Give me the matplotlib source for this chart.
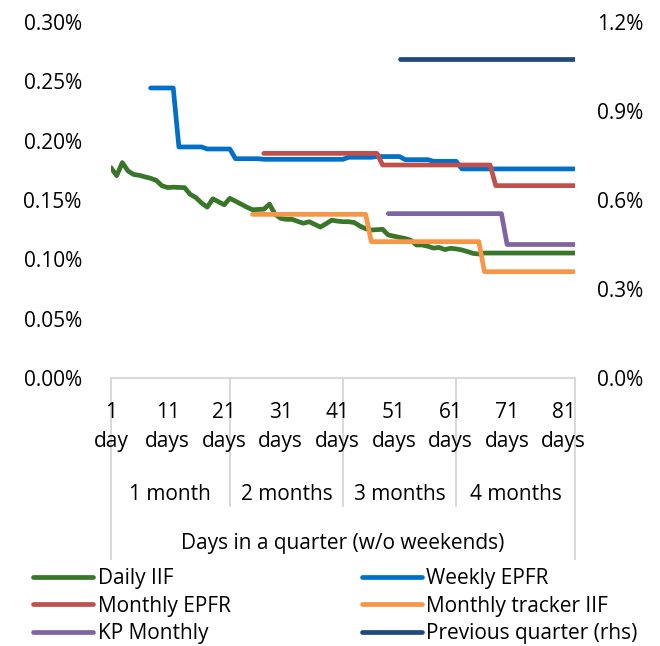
import numpy as np
import matplotlib
matplotlib.use("Agg")
import matplotlib.pyplot as plt
from matplotlib.transforms import blended_transform_factory
from matplotlib.ticker import FuncFormatter

plt.rcParams['font.family'] = ['Open Sans', 'DejaVu Sans']

# ---------------- data ----------------
days = np.arange(1, 84)

daily_iif = [
    0.1772, 0.1705, 0.1815, 0.1745, 0.1715, 0.1708, 0.1695, 0.1683, 0.1665, 0.1620,
    0.1605, 0.1608, 0.1606, 0.1604, 0.1548, 0.1520, 0.1475, 0.1440, 0.1510, 0.1485,
    0.1460, 0.1514, 0.1490, 0.1465, 0.1440, 0.1418, 0.1420, 0.1422, 0.1465, 0.1380,
    0.1345, 0.1337, 0.1337, 0.1320, 0.1304, 0.1317, 0.1295, 0.1272, 0.1300, 0.1330,
    0.1322, 0.1317, 0.1317, 0.1310, 0.1280, 0.1258, 0.1247, 0.1250, 0.1253, 0.1205,
    0.1195, 0.1185, 0.1175, 0.1160, 0.1121, 0.1121, 0.1110, 0.1095, 0.1100, 0.1082,
    0.1093, 0.1088, 0.1079, 0.1065, 0.1050, 0.1045, 0.1053, 0.1053, 0.1053, 0.1053,
    0.1053, 0.1053, 0.1053, 0.1053, 0.1053, 0.1053, 0.1053, 0.1053, 0.1053, 0.1053,
    0.1053, 0.1053, 0.1053,
]

weekly_epfr_start = [8, 13, 18, 23, 28, 33, 38, 43, 48, 53, 58, 63, 68, 73, 78]
weekly_epfr_vals = [0.2444, 0.1947, 0.1930, 0.1848, 0.1843, 0.1843, 0.1843, 0.1860,
                    0.1866, 0.1840, 0.1826, 0.1762, 0.1762, 0.1762, 0.1762]

monthly_epfr_start = [28, 49, 69]
monthly_epfr_vals = [0.1893, 0.1795, 0.1621]

tracker_iif_start = [26, 47, 67]
tracker_iif_vals = [0.1379, 0.1149, 0.0896]

kp_monthly_start = [50, 71]
kp_monthly_vals = [0.1385, 0.1125]

prev_quarter_start = [52]
prev_quarter_vals = [1.075]

x_tick_days = [1, 11, 21, 31, 41, 51, 61, 71, 81]
month_labels = ["1 month", "2 months", "3 months", "4 months"]
month_bounds = [1, 22, 42, 62, 83]

left_ticks = [0.00, 0.05, 0.10, 0.15, 0.20, 0.25, 0.30]
right_ticks = [0.0, 0.3, 0.6, 0.9, 1.2]


def held_series(starts, vals, last_day=83):
    """Values held constant from each start day until the next (step data)."""
    out = np.full(len(days), np.nan)
    for i, (s, v) in enumerate(zip(starts, vals)):
        e = starts[i + 1] if i + 1 < len(starts) else last_day + 1
        out[(days >= s) & (days < e)] = v
    return out


weekly_epfr = held_series(weekly_epfr_start, weekly_epfr_vals)
monthly_epfr = held_series(monthly_epfr_start, monthly_epfr_vals)
tracker_iif = held_series(tracker_iif_start, tracker_iif_vals)
kp_monthly = held_series(kp_monthly_start, kp_monthly_vals)
prev_quarter = held_series(prev_quarter_start, prev_quarter_vals)

# ---------------- figure ----------------
W, H = 660, 646
fig = plt.figure(figsize=(W / 100, H / 100), dpi=100)
ax = fig.add_axes([111 / W, 1 - 378 / H, (575 - 111) / W, (378 - 22) / H])
ax2 = ax.twinx()

FS = 15
lw = 3.4
c_green = "#38762A"
c_blue = "#0070C8"
c_red = "#C0504D"
c_orange = "#F79646"
c_purple = "#8064A2"
c_navy = "#1F497D"

kw = dict(lw=lw, solid_capstyle="round", solid_joinstyle="round")
l1, = ax.plot(days, daily_iif, color=c_green, label="Daily IIF", **kw)
l2, = ax.plot(days, weekly_epfr, color=c_blue, label="Weekly EPFR", **kw)
l3, = ax.plot(days, monthly_epfr, color=c_red, label="Monthly EPFR", **kw)
l4, = ax.plot(days, tracker_iif, color=c_orange, label="Monthly tracker IIF", **kw)
l5, = ax.plot(days, kp_monthly, color=c_purple, label="KP Monthly", **kw)
l6, = ax2.plot(days, prev_quarter, color=c_navy, label="Previous quarter (rhs)", **kw)

ax.set_xlim(1, 83)
ax.set_ylim(0, 0.30)
ax2.set_ylim(0, 1.2)

ax.set_yticks(left_ticks)
ax.yaxis.set_major_formatter(FuncFormatter(lambda v, p: f"{v:.2f}%"))
ax2.set_yticks(right_ticks)
ax2.yaxis.set_major_formatter(FuncFormatter(lambda v, p: f"{v:.1f}%"))

ax.tick_params(axis="y", length=0, pad=21, labelsize=FS)
ax2.tick_params(axis="y", length=0, pad=16, labelsize=FS)

ax.set_xticks(x_tick_days)
ax.set_xticklabels([f"{d}\n{'day' if d == 1 else 'days'}" for d in x_tick_days],
                   fontsize=FS, linespacing=1.5)
ax.tick_params(axis="x", length=0, pad=17)

for a in (ax, ax2):
    for s in ("left", "right", "top"):
        a.spines[s].set_visible(False)
ax2.spines["bottom"].set_visible(False)
ax.spines["bottom"].set_color("#D9D9D9")
ax.spines["bottom"].set_linewidth(1.5)

# category grouping lines below the axis
trans = blended_transform_factory(ax.transData, ax.transAxes)
ph = 378 - 22
full_low = -(560 - 378) / ph
sep_low = -(507 - 378) / ph
for i, b in enumerate(month_bounds):
    low = full_low if i in (0, len(month_bounds) - 1) else sep_low
    ax.plot([b, b], [0, low], transform=trans, color="#D9D9D9", lw=1.5,
            clip_on=False, solid_capstyle="butt", zorder=0.5)

month_y = -(494 - 378) / ph
for i, lab in enumerate(month_labels):
    xm = (month_bounds[i] + month_bounds[i + 1]) / 2
    ax.text(xm, month_y, lab, transform=trans, ha="center", va="center",
            fontsize=FS, zorder=3)

ax.text(0.5, -(544 - 378) / ph, "Days in a quarter (w/o weekends)",
        transform=ax.transAxes, ha="center", va="center", fontsize=FS)

handles = [l1, l3, l5, l2, l4, l6]
fig.legend(handles=handles, labels=[h.get_label() for h in handles],
           loc="upper left", bbox_to_anchor=(33 / W, 1 - 568 / H), ncol=2,
           frameon=False, fontsize=FS, handlelength=2.9, handletextpad=0.2,
           columnspacing=6.3, labelspacing=0.32, borderpad=0, borderaxespad=0)

fig.savefig("out.png", dpi=100)
